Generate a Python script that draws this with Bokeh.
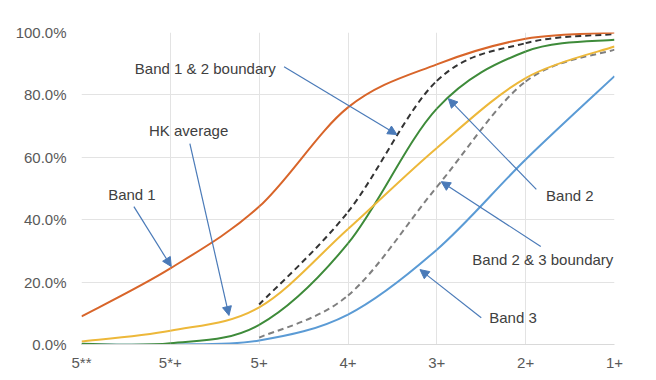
from bokeh.plotting import figure
from bokeh.models import Arrow, NormalHead, Label, FixedTicker, PrintfTickFormatter, ColumnDataSource
from bokeh.embed import file_html
from bokeh.resources import INLINE

# Grade categories (x positions 0..6 at the tick marks)
categories = ["5**", "5*+", "5+", "4+", "3+", "2+", "1+"]
x_cat = [0, 1, 2, 3, 4, 5, 6]

# Cumulative percentages at each category, in %
band1 = [9.0, 24.4, 44.2, 76.0, 89.8, 98.0, 100.0]
hk_average = [1.0, 4.4, 11.9, 37.0, 63.0, 85.4, 95.5]
band2 = [0.2, 0.4, 6.3, 32.4, 75.6, 93.9, 97.7]
band3 = [0.0, 0.0, 1.3, 9.6, 30.4, 59.3, 86.0]

# Boundary lines start at "5+"
x_bound = [2, 3, 4, 5, 6]
boundary_12 = [12.8, 42.5, 84.5, 96.6, 99.5]
boundary_23 = [2.2, 15.7, 50.5, 84.3, 94.5]

y_ticks = [0, 20, 40, 60, 80, 100]

p = figure(output_backend="svg", toolbar_location=None,
           frame_width=533, frame_height=312,
           x_range=(0, 6), y_range=(0, 100))
p.min_border_left = 81
p.min_border_right = 34
p.min_border_top = 32
p.min_border_bottom = 28
p.outline_line_color = None
p.background_fill_color = "white"
p.border_fill_color = "white"


def smooth_source(xs, ys):
    """Excel-style smoothed line: cubic Bezier segments through the data points."""
    n = len(xs)
    d = dict(x0=[], y0=[], x1=[], y1=[], cx0=[], cy0=[], cx1=[], cy1=[])
    for i in range(n - 1):
        xa, ya = xs[i], ys[i]
        xb, yb = xs[i + 1], ys[i + 1]
        xp, yp = (xs[i - 1], ys[i - 1]) if i > 0 else (xa, ya)
        xn, yn = (xs[i + 2], ys[i + 2]) if i + 2 < n else (xb, yb)
        d["x0"].append(xa); d["y0"].append(ya)
        d["x1"].append(xb); d["y1"].append(yb)
        d["cx0"].append(xa + (xb - xp) / 6.0); d["cy0"].append(ya + (yb - yp) / 6.0)
        d["cx1"].append(xb - (xn - xa) / 6.0); d["cy1"].append(yb - (yn - ya) / 6.0)
    return ColumnDataSource(d)


series = [
    (x_cat, band3, "#5B9BD5", None),
    (x_bound, boundary_23, "#7F7F7F", "6 4"),
    (x_cat, band2, "#3E8B3A", None),
    (x_cat, hk_average, "#EDB83A", None),
    (x_bound, boundary_12, "#333333", "6 4"),
    (x_cat, band1, "#D8652A", None),
]
for xs, ys, col, dash in series:
    kw = dict(line_color=col, line_width=2)
    if dash:
        kw["line_dash"] = dash
    p.bezier(x0="x0", y0="y0", x1="x1", y1="y1", cx0="cx0", cy0="cy0",
             cx1="cx1", cy1="cy1", source=smooth_source(xs, ys), **kw)

# Axes
p.xaxis.ticker = FixedTicker(ticks=x_cat)
p.xaxis.major_label_overrides = {i: c for i, c in zip(x_cat, categories)}
p.yaxis.ticker = FixedTicker(ticks=y_ticks)
p.yaxis.formatter = PrintfTickFormatter(format="%.1f%%")
for ax in (p.xaxis[0], p.yaxis[0]):
    ax.major_tick_line_color = None
    ax.minor_tick_line_color = None
    ax.major_label_text_font = "Liberation Sans"
    ax.major_label_text_font_size = "15px"
    ax.major_label_text_color = "#595959"
p.yaxis.axis_line_color = None
p.xaxis.axis_line_color = "#D9D9D9"
p.xaxis.major_label_standoff = 3
p.yaxis.major_label_standoff = 9
p.xgrid.ticker = FixedTicker(ticks=x_cat)
p.xgrid.grid_line_color = "#E3E3E3"
p.ygrid.grid_line_color = "#E3E3E3"

# Annotations: text position and arrow start/end, in data units
ann_text = ["Band 1 & 2 boundary", "HK average", "Band 1", "Band 2", "Band 2 & 3 boundary", "Band 3"]
ann_tx = [0.60, 0.76, 0.30, 5.23, 4.40, 4.59]
ann_ty = [88.5, 68.6, 48.1, 47.8, 27.2, 8.7]
ann_x0 = [2.28, 1.22, 0.59, 5.12, 5.17, 4.50]
ann_y0 = [89.0, 64.4, 44.2, 49.7, 31.4, 8.6]
ann_x1 = [3.55, 1.66, 1.01, 4.13, 4.05, 3.81]
ann_y1 = [67.3, 9.3, 25.0, 78.8, 52.2, 24.0]

for t, tx, ty, x0, y0, x1, y1 in zip(ann_text, ann_tx, ann_ty, ann_x0, ann_y0, ann_x1, ann_y1):
    p.add_layout(Label(x=tx, y=ty, text=t, text_font="Liberation Sans",
                       text_font_size="15px", text_color="#404040",
                       text_baseline="middle", text_align="left"))
    p.add_layout(Arrow(x_start=x0, y_start=y0, x_end=x1, y_end=y1,
                       line_color="#4A7AB8", line_width=1.2,
                       end=NormalHead(size=9, fill_color="#4A7AB8", line_color="#4A7AB8")))

open("out.html", "w").write(file_html(p, INLINE))
